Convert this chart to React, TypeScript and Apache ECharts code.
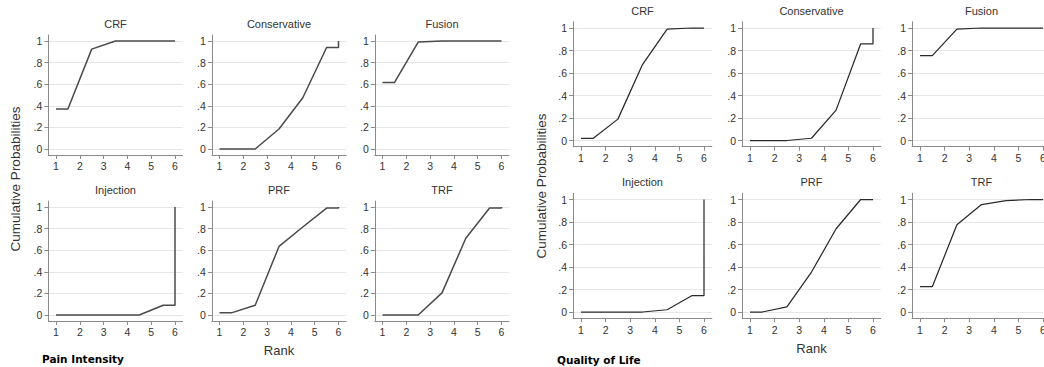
import React, { useEffect, useRef } from "react";
import * as echarts from "echarts";

// Cumulative probabilities at ranks 1..5 (rank 6 is always 1)
const treatments = ["CRF", "Conservative", "Fusion", "Injection", "PRF", "TRF"];
const painCRF = [0.37, 0.925, 1.0, 1.0, 1.0];
const painConservative = [0.0, 0.0, 0.185, 0.475, 0.94];
const painFusion = [0.615, 0.99, 1.0, 1.0, 1.0];
const painInjection = [0.0, 0.0, 0.0, 0.0, 0.09];
const painPRF = [0.02, 0.09, 0.635, 0.815, 0.99];
const painTRF = [0.0, 0.0, 0.205, 0.71, 0.99];
const qolCRF = [0.02, 0.19, 0.675, 0.99, 1.0];
const qolConservative = [0.0, 0.0, 0.02, 0.27, 0.86];
const qolFusion = [0.755, 0.99, 1.0, 1.0, 1.0];
const qolInjection = [0.0, 0.0, 0.0, 0.02, 0.145];
const qolPRF = [0.0, 0.045, 0.355, 0.74, 1.0];
const qolTRF = [0.225, 0.775, 0.955, 0.99, 1.0];
const xTicks = [1, 2, 3, 4, 5, 6];
const yTicks = [0, 0.2, 0.4, 0.6, 0.8, 1];
const panelNames = ["Pain Intensity", "Quality of Life"];

const painSets = [painCRF, painConservative, painFusion, painInjection, painPRF, painTRF];
const qolSets = [qolCRF, qolConservative, qolFusion, qolInjection, qolPRF, qolTRF];

function curve(c: number[]) {
  return [
    [1, c[0]],
    [1.5, c[0]],
    [2.5, c[1]],
    [3.5, c[2]],
    [4.5, c[3]],
    [5.5, c[4]],
    [6, c[4]],
    [6, 1],
  ];
}

const fmtY = (v: number) => {
  if (Math.abs(v) < 1e-9) return "0";
  if (Math.abs(v - 1) < 1e-9) return "1";
  return "." + Math.round(v * 10);
};

const XMIN = 0.68;
const XMAX = 6.32;
const YMIN = -0.055;
const YMAX = 1.055;

export default function App() {
  const ref = useRef<HTMLDivElement>(null);
  useEffect(() => {
    document.body.style.margin = "0";
    document.body.style.overflow = "hidden";
    const chart = echarts.init(ref.current!, null, { renderer: "svg" });
    const font = "'Liberation Sans', Arial, sans-serif";

    const panels = [
      { sets: painSets, x1: [56, 219.5, 382.5], ux: 23.8, y1: [41, 207], uy: 108, lc: "#4a4a4a", lw: 1.5 },
      { sets: qolSets, x1: [581, 750, 920], ux: 24.6, y1: [28, 199.5], uy: 112.5, lc: "#2a2a2a", lw: 1.25 },
    ];

    const grids: any[] = [];
    const xAxes: any[] = [];
    const yAxes: any[] = [];
    const series: any[] = [];
    const graphics: any[] = [];

    panels.forEach((p, pi) => {
      for (let r = 0; r < 2; r++) {
        for (let c = 0; c < 3; c++) {
          const idx = r * 3 + c;
          const gi = grids.length;
          const left = p.x1[c] - (1 - XMIN) * p.ux;
          const width = (XMAX - XMIN) * p.ux;
          const top = p.y1[r] - (YMAX - 1) * p.uy;
          const height = (YMAX - YMIN) * p.uy;
          grids.push({ left, top, width, height, containLabel: false });
          xAxes.push({
            type: "value",
            gridIndex: gi,
            min: XMIN,
            max: XMAX,
            axisLine: { show: true, onZero: false, lineStyle: { color: "#8a8a8a", width: 1 } },
            axisTick: { show: true, length: 4, customValues: xTicks, lineStyle: { color: "#8a8a8a" } },
            axisLabel: {
              show: true,
              customValues: xTicks,
              margin: 6,
              fontSize: 10.5,
              color: "#333",
              fontFamily: font,
              formatter: (v: number) => String(v),
            },
            splitLine: { show: false },
          });
          yAxes.push({
            type: "value",
            gridIndex: gi,
            min: YMIN,
            max: YMAX,
            axisLine: { show: true, onZero: false, lineStyle: { color: "#8a8a8a", width: 1 } },
            axisTick: { show: true, length: 4, customValues: yTicks, lineStyle: { color: "#8a8a8a" } },
            axisLabel: {
              show: true,
              customValues: yTicks,
              margin: 6,
              fontSize: 10.5,
              color: "#333",
              fontFamily: font,
              formatter: fmtY,
            },
            splitLine: { show: true, lineStyle: { color: "#e6e6e6", width: 1 } },
          });
          series.push({
            type: "line",
            name: panelNames[pi] + " " + treatments[idx],
            xAxisIndex: gi,
            yAxisIndex: gi,
            data: curve(p.sets[idx]),
            showSymbol: false,
            symbol: "none",
            lineStyle: { color: p.lc, width: p.lw },
            clip: false,
          });
          graphics.push({
            type: "text",
            x: p.x1[c] + 2.5 * p.ux,
            y: top - 11,
            style: {
              text: treatments[idx],
              align: "center",
              verticalAlign: "middle",
              fontSize: 11,
              fill: "#333",
              fontFamily: font,
            },
          });
        }
      }
    });

    graphics.push({
      type: "text",
      x: 219.5 + 2.5 * 23.8,
      y: 350,
      style: { text: "Rank", align: "center", verticalAlign: "middle", fontSize: 13, fill: "#333", fontFamily: font },
    });
    graphics.push({
      type: "text",
      x: 750 + 2.5 * 24.6,
      y: 348,
      style: { text: "Rank", align: "center", verticalAlign: "middle", fontSize: 13, fill: "#333", fontFamily: font },
    });
    graphics.push({
      type: "text",
      x: 15,
      y: 179,
      rotation: Math.PI / 2,
      style: { text: "Cumulative Probabilities", align: "center", verticalAlign: "middle", fontSize: 13.5, fill: "#333", fontFamily: font },
    });
    graphics.push({
      type: "text",
      x: 541,
      y: 186,
      rotation: Math.PI / 2,
      style: { text: "Cumulative Probabilities", align: "center", verticalAlign: "middle", fontSize: 13.5, fill: "#333", fontFamily: font },
    });
    graphics.push({
      type: "text",
      x: 42,
      y: 359,
      style: { text: panelNames[0], align: "left", verticalAlign: "middle", fontSize: 10.5, fontWeight: "bold", fill: "#000", fontFamily: "'DejaVu Sans', sans-serif" },
    });
    graphics.push({
      type: "text",
      x: 557,
      y: 360,
      style: { text: panelNames[1], align: "left", verticalAlign: "middle", fontSize: 10.5, fontWeight: "bold", fill: "#000", fontFamily: "'DejaVu Sans', sans-serif" },
    });

    chart.setOption({
      animation: false,
      backgroundColor: "#fff",
      grid: grids,
      xAxis: xAxes,
      yAxis: yAxes,
      series,
      graphic: graphics,
    });
    return () => chart.dispose();
  }, []);
  return <div ref={ref} style={{ width: 1070, height: 367 }} />;
}
